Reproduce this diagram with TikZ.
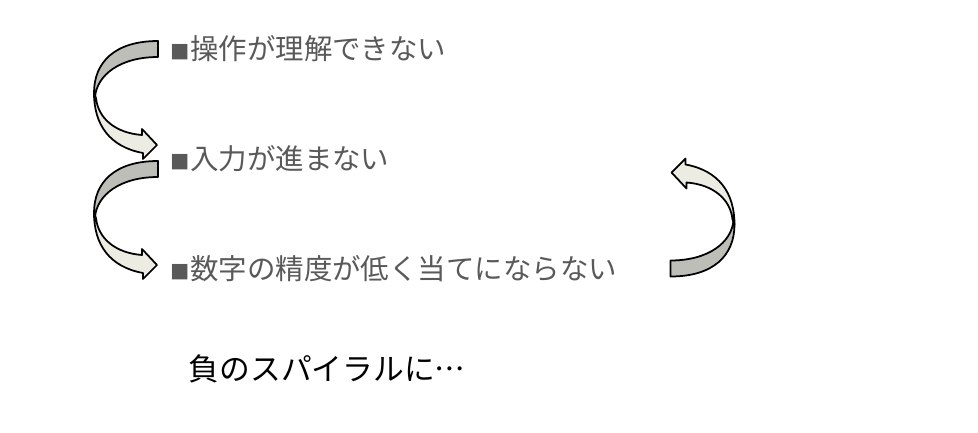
\documentclass[tikz,border=0pt]{standalone}
\usepackage{fontspec}
\setmainfont{Noto Sans CJK JP}
\usepackage{xcolor}
\definecolor{chumbo}{RGB}{89, 89, 89}
\definecolor{fosco}{RGB}{190, 190, 184}
\definecolor{marfim}{RGB}{236, 236, 226}
\usetikzlibrary{positioning}

\newfontfamily\japones[Script=CJK, RawFeature=+fwid]{Noto Sans CJK JP}
\newcommand{\marca}{{\fontsize{11}{11}\selectfont ■}}
\newcommand{\reticencias}{{\japones …}}

\tikzset{
	seta/.pic={
		\draw [fill=fosco] (0,0) .. controls (-43,0) and (-64,21) .. (-64,52) -- (-63,56) .. controls (-61,34) and (-38,16) .. (0,16) -- cycle;
		\draw [fill=marfim] (-64,52) .. controls (-64,84) and (-48,106) .. (-15,112) -- (-15,118) -- (-1,104) -- (-16,88) -- (-16,94) .. controls (-43,92) and (-60,77) .. (-62,57) -- cycle;
	},
	item/.style={anchor=base west, inner sep=0pt, text=chumbo, font=\fontsize{16.2}{19}\selectfont},
}

\begin{document}
\begin{tikzpicture}[x=0.02cm, y=-0.02cm, line width=1pt, line join=round]
			\useasboundingbox (0,0) rectangle (978,433);
			
			\node [item] (operacao) at (170,59) {\marca 操作が理解できない};
			\node [item] (entrada) at (170,169) {\marca 入力が進まない};
			\node [item] (precisao) at (170,279) {\marca 数字の精度が低く当てにならない};
			
			\node [anchor=base west, inner sep=0pt, font=\fontsize{17.5}{21}\selectfont] (espiral) at (188,380) {負のスパイラルに\reticencias};
			
			\pic at (158,41) {seta};
			\pic at (158,161) {seta};
			\pic [rotate=180] at (670.5,276.5) {seta};
		\end{tikzpicture}
\end{document}
